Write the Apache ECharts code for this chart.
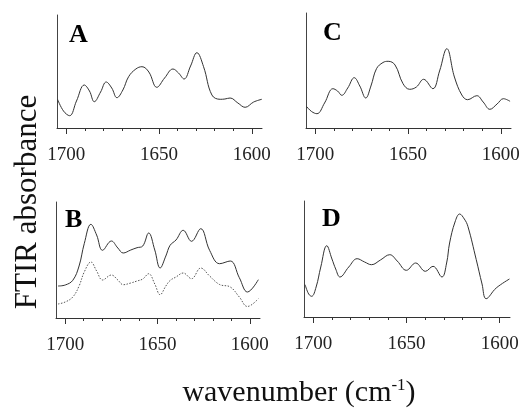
<!DOCTYPE html>
<html><head><meta charset="utf-8">
<script src="https://cdn.jsdelivr.net/npm/echarts@6/dist/echarts.min.js"></script>
<style>html,body{margin:0;padding:0;background:#fff}#c{width:522px;height:411px}</style>
</head><body><div id="c"></div>
<script>
// Panel A
const wnA = [1704.7,1701.5,1698.2,1694.5,1690.3,1687.5,1684.9,1681.5,1678.5,1675.5,1672.7,1669.5,1666.4,1662.5,1659.2,1655.5,1651.2,1647,1642.5,1639.5,1636.5,1633,1629.6,1626,1621.5,1617,1614.5,1611.7,1607.5,1603.6,1599,1594.6];
const absA = [28.7,17,12.3,27,43,37,26.3,36,46,40,30.3,38,51.3,59,61.3,56,40.7,50,59,55,49,62,75.3,61.3,33,28.7,29,30,25,20.7,26,28.7];
// Panel C
const wnC = [1704.8,1702,1699.1,1695,1690.5,1688,1685.7,1682.5,1679,1676,1672.8,1670,1667,1663.5,1660.7,1657,1652.7,1649.1,1645.5,1641.6,1636.6,1633,1629.1,1625,1621,1617.9,1612.9,1609.5,1605.9,1602,1598.6,1595];
const absC = [21.7,16.5,14.3,25,39.3,37,32.7,40,50.3,42,30,42,59.3,65.5,66.7,63,44.3,38.7,41,48.7,39.3,57,79.3,51,33,28.3,32.3,26,18.7,24,29.3,26.7];
// Panel B (solid and dotted)
const wnB = [1703.9,1700,1695.9,1692.5,1689.7,1686.1,1683,1679.8,1675,1671.5,1668.6,1664.5,1661.1,1658,1654.8,1651.5,1648.6,1645.5,1643.2,1640,1636.1,1631.6,1626.6,1621.8,1616.4,1610.6,1605.7,1601.3,1595.4];
const absB1 = [32,33,37.7,52,74.3,93.7,83,67.7,77,70,65,68,70.3,72,85,68,50,62,72.7,78,87.7,76.7,89.3,67.7,54.3,57,40.3,26,38.3];
const absB2 = [14,16,21,32,46,56,47,38,43,38,33.3,35,37,39,44.3,34,23.3,32,37.5,41,45,39.3,50,42,33.5,31,21,11.5,19.3];
// Panel D
const wnD = [1704.4,1702.5,1700.9,1698.5,1696,1692.8,1690,1688,1685.7,1681,1676.5,1672.5,1668.8,1664,1659,1655,1650.1,1645.1,1639.9,1635.8,1631,1628.5,1626.9,1624,1621.5,1619,1617.1,1612.6,1609.5,1607.3,1601.9,1594.8];
const absD = [32.3,23,20.7,30,50,71.3,58,48,40,50,58.3,55,52.3,57,62.3,56,46.7,54,45.7,50.7,40,54,74,95,103,98,90.7,57.3,33,18.3,29,38];

const majorTicks = [1600,1650,1700];
const minorTicks = [1600,1610,1620,1630,1640,1650,1660,1670,1680,1690,1700];
const panelLetters = ['A','C','B','D'];

const FONT = "'Liberation Serif','DejaVu Serif',serif";
const grids = [
  {left:57, top:15, width:205, height:113, outerBoundsMode:'none', containLabel:false},
  {left:306, top:13, width:205, height:115, outerBoundsMode:'none', containLabel:false},
  {left:56, top:202, width:204, height:116, outerBoundsMode:'none', containLabel:false},
  {left:304, top:201, width:206, height:116, outerBoundsMode:'none', containLabel:false}
];
const yMax = [113, 115, 116, 116];
const letterPos = [[69,22],[323,20],[65,207],[322,206]];

const pair = (xs, ys) => xs.map((x,i)=>[x, ys[i]]);

const xAxes = [], yAxes = [];
grids.forEach((g,i)=>{
  xAxes.push({
    type:'value', gridIndex:i, min:1594.5, max:1705, inverse:true, position:'bottom', offset:0,
    axisLine:{show:true, lineStyle:{color:'#333', width:1}},
    axisTick:{show:true, customValues:minorTicks, length:3, lineStyle:{color:'#333'}},
    axisLabel:{show:false},
    splitLine:{show:false}
  });
  xAxes.push({
    type:'value', gridIndex:i, min:1594.5, max:1705, inverse:true, position:'bottom', offset:0,
    axisLine:{show:false},
    axisTick:{show:true, customValues:majorTicks, length:6, lineStyle:{color:'#333'}},
    axisLabel:{show:true, customValues:majorTicks, margin:18, fontFamily:FONT, fontSize:19, color:'#222',
      formatter:(v)=>String(Math.round(v))},
    splitLine:{show:false}
  });
  yAxes.push({
    type:'value', gridIndex:i, min:0, max:yMax[i],
    axisLine:{show:true, lineStyle:{color:'#444', width:1}},
    axisTick:{show:false}, axisLabel:{show:false}, splitLine:{show:false}
  });
});

const lineStyleSolid = {color:'#333', width:1};
const series = [
  {type:'line', xAxisIndex:0, yAxisIndex:0, data:pair(wnA,absA), smooth:0.4, symbol:'none', lineStyle:lineStyleSolid},
  {type:'line', xAxisIndex:2, yAxisIndex:1, data:pair(wnC,absC), smooth:0.4, symbol:'none', lineStyle:lineStyleSolid},
  {type:'line', xAxisIndex:4, yAxisIndex:2, data:pair(wnB,absB1), smooth:0.4, symbol:'none', lineStyle:lineStyleSolid},
  {type:'line', xAxisIndex:4, yAxisIndex:2, data:pair(wnB,absB2), smooth:0.4, symbol:'none', lineStyle:{color:'#555', width:1, type:[1.5,1.5]}},
  {type:'line', xAxisIndex:6, yAxisIndex:3, data:pair(wnD,absD), smooth:0.4, symbol:'none', lineStyle:lineStyleSolid}
];

const graphics = panelLetters.map((t,i)=>({
  type:'text', left:letterPos[i][0], top:letterPos[i][1],
  style:{text:t, font:"bold 26px "+FONT, fill:'#000'}
}));
graphics.push({
  type:'text', x:28, y:202, rotation:Math.PI/2,
  style:{text:'FTIR absorbance', font:"31px "+FONT, fill:'#111', align:'center', verticalAlign:'middle'}
});
graphics.push({
  type:'text', x:299, y:393,
  style:{text:'{a|wavenumber (cm}{s|-1}{a|)}', align:'center', verticalAlign:'middle', fill:'#111',
    rich:{a:{fontFamily:FONT, fontSize:30, fill:'#111'}, s:{fontFamily:FONT, fontSize:17, fill:'#111', padding:[0,0,14,0]}}}
});

const chart = echarts.init(document.getElementById('c'), null, {renderer:'canvas'});
chart.setOption({
  backgroundColor:'#fff',
  animation:false,
  grid:grids,
  xAxis:xAxes,
  yAxis:yAxes,
  series:series,
  graphic:graphics
});
</script>
</body></html>
